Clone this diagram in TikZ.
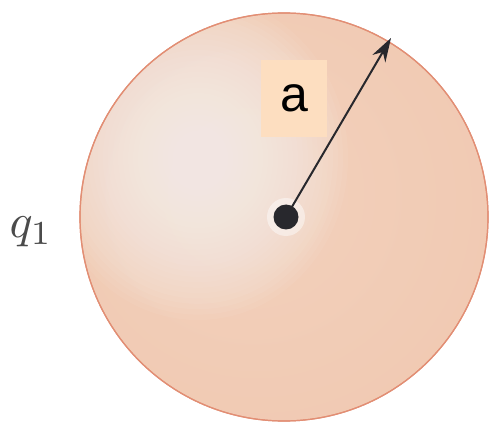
\documentclass[tikz,border=0pt]{standalone}
\usepackage{fontspec}
\newfontfamily\arialf{Liberation Sans}
\usetikzlibrary{arrows.meta}
\definecolor{rimcol}{RGB}{226,142,116}
\definecolor{boxcol}{RGB}{253,222,192}
\definecolor{dotcol}{RGB}{40,40,45}
\definecolor{qcol}{RGB}{75,75,75}
\definecolor{hlcol}{RGB}{244,243,240}
\pgfdeclareradialshading{spherebase}{\pgfpoint{-6bp}{4bp}}{%
  rgb(0bp)=(0.95,0.82,0.74);
  rgb(30bp)=(0.945,0.79,0.70);
  rgb(42bp)=(0.94,0.76,0.665);
  rgb(48bp)=(0.935,0.72,0.62);
  rgb(50bp)=(0.92,0.64,0.55)}
\tikzset{
  sphere/.style={draw=rimcol, line width=1.2pt, shading=spherebase},
  hlayer/.style={fill=hlcol, opacity=0.065},
  labelbox/.style={fill=boxcol, minimum width=66pt, minimum height=77pt, inner sep=0pt,
    font=\arialf\fontsize{50}{52}\selectfont},
  radiusarrow/.style={draw=dotcol, line width=2pt, -{Stealth[length=24pt,width=15pt]}},
  qlabel/.style={text=qcol, inner sep=0pt}
}
\begin{document}
\begin{tikzpicture}[x=1pt,y=-1pt]
\useasboundingbox[fill=white] (0,0) rectangle (491,428);
\path[sphere] (284,217) circle (204);
\begin{scope}
  \clip (284,217) circle (203);
  \foreach \r in {5,10,...,150} {
    \path[hlayer] (198,158) ellipse ({\r*1.0} and {\r*1.08});
  }
\end{scope}
\draw[rimcol, line width=1.2pt] (284,217) circle (204);
\coordinate (c) at (286,217);
\coordinate (tip) at (391,38);
\fill[white, opacity=0.45] (c) circle (19);
\draw[radiusarrow] (c) -- (tip);
\node[circle, fill=dotcol, minimum size=25pt, inner sep=0pt] (dot) at (c) {};
\node[labelbox] (a) at (294,98.5) {a};
\node[qlabel] (q) at (31,232) {\scalebox{4.8}{$q_1$}};
\end{tikzpicture}
\end{document}
